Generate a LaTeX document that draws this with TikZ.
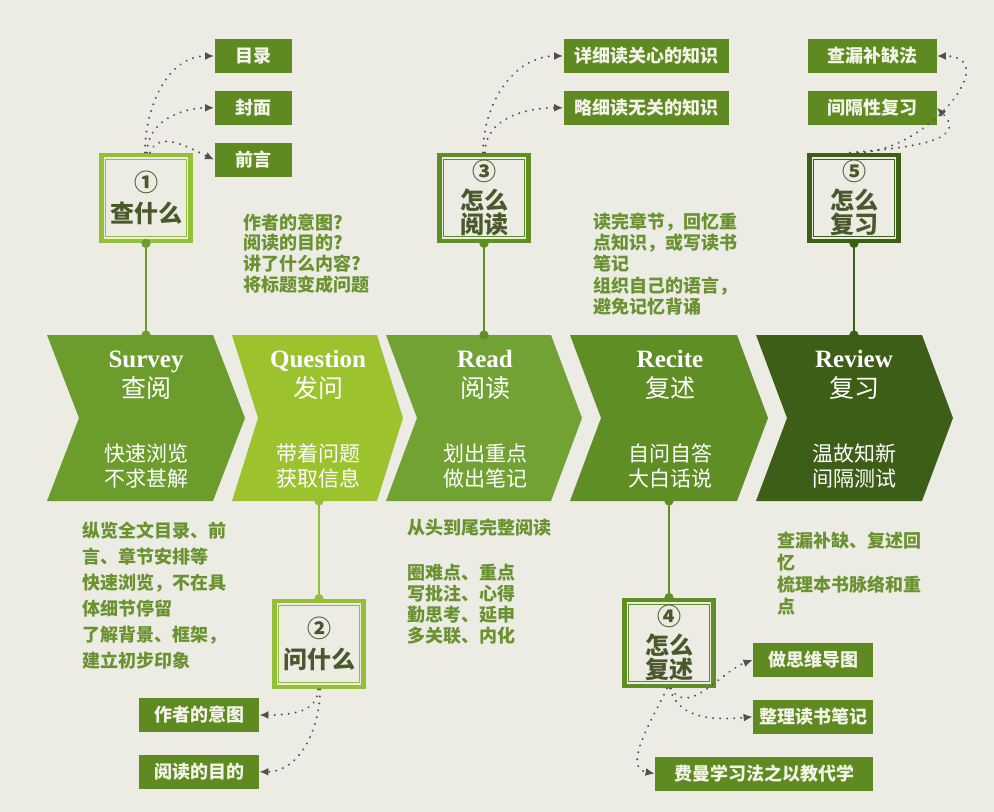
\documentclass[tikz,border=0pt]{standalone}
\usepackage{fontspec}
\setmainfont{Liberation Serif}
\newfontfamily\cjk{Noto Sans CJK SC}
\usetikzlibrary{positioning,arrows.meta}
\definecolor{paper}{HTML}{ECECE4}
\definecolor{svgreen}{HTML}{6C9D2C}
\definecolor{qsgreen}{HTML}{9CC22E}
\definecolor{rdgreen}{HTML}{72A233}
\definecolor{rcgreen}{HTML}{5F8E24}
\definecolor{rvgreen}{HTML}{3C5E16}
\definecolor{lightframe}{HTML}{94BF38}
\definecolor{leafgreen}{HTML}{5E8A21}
\definecolor{leaftext}{HTML}{F3F3E7}
\definecolor{notegreen}{HTML}{6A9231}
\definecolor{stepink}{HTML}{4A592B}
\definecolor{hintgrey}{HTML}{505050}
\tikzset{
  stagetitle/.style={text=white, align=center, inner sep=0pt, font=\bfseries\fontsize{12.5}{15}\selectfont},
  stagesub/.style={text=white, align=center, inner sep=0pt, font=\cjk\fontsize{10.5}{12.5}\selectfont},
  stepbox/.style={draw=#1, line width=2.4pt, fill=paper, minimum width=44.5pt, minimum height=43pt, inner sep=0pt, align=center, text=stepink, font=\cjk\bfseries\fontsize{12}{12.2}\selectfont,
    path picture={\draw[#1, line width=0.5pt] ([shift={(2.1pt,-2.1pt)}]path picture bounding box.north west) rectangle ([shift={(-2.1pt,2.1pt)}]path picture bounding box.south east);}},
  leaf/.style={fill=leafgreen, text=leaftext, minimum height=17pt, inner sep=0pt, font=\cjk\bfseries\fontsize{9}{10}\selectfont},
  note/.style={text=notegreen, align=left, inner sep=0pt, anchor=north west, font=\cjk\bfseries\fontsize{9}{#1}\selectfont},
  note/.default=10.4,
  hint/.style={draw=hintgrey, line width=1.1pt, line cap=round, dash pattern=on 0.01pt off 3.5pt, -{Latex[length=4.5pt,width=4pt]}},
  stem/.style={draw=#1, line width=1pt}
}
\begin{document}
\begin{tikzpicture}[x=0.5pt, y=-0.5pt, node distance=8.5pt]
  \fill[paper] (0,0) rectangle (994,812);
  \useasboundingbox (0,0) rectangle (994,812);

  \fill[svgreen] (47,335) -- (213,335) -- (245,418) -- (213,501) -- (47,501) -- (79,418) -- cycle;
  \fill[qsgreen] (232,335) -- (377,335) -- (403,418) -- (377,501) -- (232,501) -- (258,418) -- cycle;
  \fill[rdgreen] (386,335) -- (551,335) -- (582,418) -- (551,501) -- (386,501) -- (417,418) -- cycle;
  \fill[rcgreen] (570,335) -- (737,335) -- (768,418) -- (737,501) -- (570,501) -- (601,418) -- cycle;
  \fill[rvgreen] (756,335) -- (922,335) -- (953,418) -- (922,501) -- (756,501) -- (787,418) -- cycle;

  \node[stagetitle] (sv-title) at (146,375) {Survey\\\cjk\mdseries 查阅};
  \node[stagetitle] (qs-title) at (318,375) {Question\\\cjk\mdseries 发问};
  \node[stagetitle] (rd-title) at (485,375) {Read\\\cjk\mdseries 阅读};
  \node[stagetitle] (rc-title) at (670,375) {Recite\\\cjk\mdseries 复述};
  \node[stagetitle] (rv-title) at (854,375) {Review\\\cjk\mdseries 复习};
  \node[stagesub] (sv-sub) at (146,466) {快速浏览\\不求甚解};
  \node[stagesub] (qs-sub) at (318,466) {带着问题\\获取信息};
  \node[stagesub] (rd-sub) at (485,466) {划出重点\\做出笔记};
  \node[stagesub] (rc-sub) at (670,466) {自问自答\\大白话说};
  \node[stagesub] (rv-sub) at (854,466) {温故知新\\间隔测试};

  \coordinate (sv-top) at (146,335);
  \coordinate (qs-bot) at (319,501);
  \coordinate (rd-top) at (484,335);
  \coordinate (rc-bot) at (669,501);
  \coordinate (rv-top) at (854,335);

  \node[stepbox=lightframe] (ask1) at (146,198) {①\\[3pt]查什么};
  \node[stepbox=lightframe] (ask2) at (319,644) {②\\[3pt]问什么};
  \node[stepbox=rcgreen] (ask3) at (484,198) {③\\[2pt]怎么\\阅读};
  \node[stepbox=rcgreen] (ask4) at (669,643) {④\\[2pt]怎么\\复述};
  \node[stepbox=rvgreen] (ask5) at (854,198) {⑤\\[2pt]怎么\\复习};

  \draw[stem=svgreen] (ask1.south) -- (sv-top);
  \fill[svgreen] (ask1.south) circle (2.3pt) (sv-top) circle (2.3pt);
  \draw[stem=lightframe] (qs-bot) -- (ask2.north);
  \fill[lightframe] (qs-bot) circle (2.3pt) (ask2.north) circle (2.3pt);
  \draw[stem=rcgreen] (ask3.south) -- (rd-top);
  \fill[rcgreen] (ask3.south) circle (2.3pt) (rd-top) circle (2.3pt);
  \draw[stem=rcgreen] (rc-bot) -- (ask4.north);
  \fill[rcgreen] (rc-bot) circle (2.3pt) (ask4.north) circle (2.3pt);
  \draw[stem=rvgreen] (ask5.south) -- (rv-top);
  \fill[rvgreen] (ask5.south) circle (2.3pt) (rv-top) circle (2.3pt);

  \node[leaf, minimum width=38.5pt] (mulu) at (253,56) {目录};
  \node[leaf, minimum width=38.5pt, below=of mulu] (fengmian) {封面};
  \node[leaf, minimum width=38.5pt, below=of fengmian] (qianyan) {前言};
  \node[leaf, minimum width=82.5pt] (xiangxi) at (646,56) {详细读关心的知识};
  \node[leaf, minimum width=82.5pt, below=of xiangxi] (lvexi) {略细读无关的知识};
  \node[leaf, minimum width=64.5pt] (chalou) at (872,56) {查漏补缺法};
  \node[leaf, minimum width=64.5pt, below=of chalou] (jiange) {间隔性复习};
  \node[leaf, minimum width=60pt] (yitu) at (199,715) {作者的意图};
  \node[leaf, minimum width=60pt, below=11pt of yitu] (mudi) {阅读的目的};
  \node[leaf, minimum width=60pt] (daotu) at (813,660) {做思维导图};
  \node[leaf, minimum width=60pt, below=11pt of daotu] (biji) {整理读书笔记};
  \node[leaf, minimum width=109pt, below=11pt of biji.south east, anchor=north east] (feiman) {费曼学习法之以教代学};

  \node[note] (qs-note) at (243,213) {作者的意图?\\阅读的目的?\\讲了什么内容?\\将标题变成问题};
  \node[note=10.7] (rc-note) at (593,212) {读完章节，回忆重\\点知识，或写读书\\笔记\\组织自己的语言，\\避免记忆背诵};
  \node[note=13] (sv-note) at (82,521) {纵览全文目录、前\\言、章节安排等\\快速浏览，不在具\\体细节停留\\了解背景、框架，\\建立初步印象};
  \node[note] (rd-note) at (407,518) {从头到尾完整阅读\\[12.5pt]圈难点、重点\\写批注、心得\\勤思考、延申\\多关联、内化};
  \node[note=11] (rv-note) at (777,532) {查漏补缺、复述回\\忆\\梳理本书脉络和重\\点};

  \draw[hint] ([xshift=-0.5pt]ask1.north) to[out=90, in=180] (mulu.west);
  \draw[hint] ([xshift=0.5pt]ask1.north) to[out=90, in=180] (fengmian.west);
  \draw[hint] ([xshift=2pt]ask1.north) to[out=70, in=155] (qianyan.west);
  \draw[hint] ([xshift=-0.5pt]ask3.north) to[out=90, in=180] (xiangxi.west);
  \draw[hint] ([xshift=0.5pt]ask3.north) to[out=90, in=180] (lvexi.west);
  \draw[hint] ([xshift=2pt]ask5.north) to[out=0, in=0, looseness=1.4] (chalou.east);
  \draw[hint] ([xshift=-2pt]ask5.north) to[out=5, in=-45, looseness=1.3] (jiange.east);
  \draw[hint] ([xshift=-0.5pt]ask2.south) to[out=-90, in=0] (yitu.east);
  \draw[hint] ([xshift=0.5pt]ask2.south) to[out=-90, in=0] (mudi.east);
  \draw[hint] ([xshift=1pt]ask4.south) to[out=-60, in=200] (daotu.west);
  \draw[hint] ([xshift=0.5pt]ask4.south) to[out=-75, in=185] (biji.west);
  \draw[hint] ([xshift=-1pt]ask4.south) to[out=-115, in=170] (feiman.west);
\end{tikzpicture}
\end{document}
